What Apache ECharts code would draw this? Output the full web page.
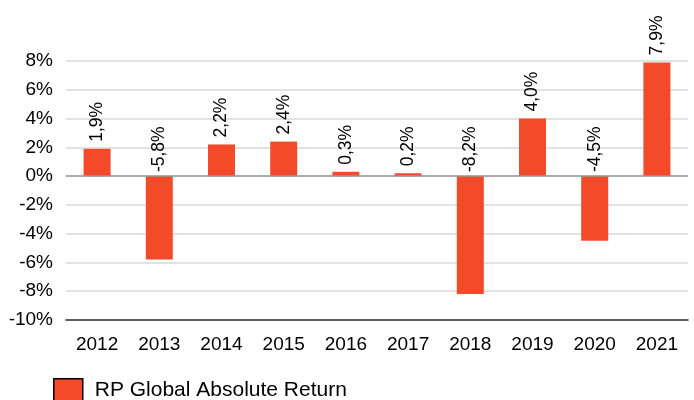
<!DOCTYPE html>
<html>
<head>
<meta charset="utf-8">
<script src="https://cdn.jsdelivr.net/npm/echarts@6/dist/echarts.min.js"></script>
<style>
html,body{margin:0;padding:0;background:#fff;}
#chart{width:694px;height:400px;}
</style>
</head>
<body>
<div id="chart"></div>
<script>
var years = ['2012','2013','2014','2015','2016','2017','2018','2019','2020','2021'];
var returns = [1.9, -5.8, 2.2, 2.4, 0.3, 0.2, -8.2, 4.0, -4.5, 7.9];
var seriesName = 'RP Global Absolute Return';

var myChart = echarts.init(document.getElementById('chart'));

function fmt(v){
    return v.toFixed(1).replace('.', ',') + '%';
}

option = {
    animation: false,
    textStyle: {fontFamily: 'Liberation Sans'},
    grid: {left: 66, right: 6, top: 61, bottom: 80},
    legend: {
        left: 53, top: 378, padding: 0,
        itemWidth: 29, itemHeight: 22,
        itemGap: 10,
        icon: 'rect',
        textStyle: {fontSize: 21, lineHeight: 22, color: '#000', fontFamily: 'Liberation Sans', padding: [0, 0, 0, 7]},
        data: [{name: seriesName, itemStyle: {borderColor: '#000', borderWidth: 1.5}}]
    },
    xAxis: {
        type: 'category',
        data: years,
        axisLine: {onZero: false, lineStyle: {color: '#333', width: 1.5}},
        axisTick: {alignWithLabel: true, length: 5, lineStyle: {color: '#555'}},
        axisLabel: {fontSize: 19, color: '#000', margin: 15}
    },
    yAxis: {
        type: 'value',
        min: -10, max: 8, interval: 2,
        axisLine: {show: false},
        axisTick: {show: false},
        axisLabel: {fontSize: 19, color: '#000', margin: 13, formatter: '{value}%'},
        splitLine: {lineStyle: {color: '#d9d9d9', width: 1.5}}
    },
    series: [{
        name: seriesName,
        type: 'bar',
        barWidth: 27,
        itemStyle: {color: '#f34a2a'},
        data: returns,
        label: {
            show: true,
            position: 'insideBottom',
            rotate: 90,
            align: 'left',
            verticalAlign: 'middle',
            fontSize: 17.5,
            color: '#000',
            formatter: function(p){ return fmt(p.value); }
        },
        labelLayout: function(params){
            var r = params.rect;
            var top = Math.min(r.y, r.y + r.height);
            var v = returns[params.dataIndex];
            var gap = v >= 0 ? 7 : 4;
            return {x: r.x + r.width / 2, y: top - gap};
        },
        markLine: {
            silent: true,
            symbol: ['none','none'],
            label: {show: false},
            lineStyle: {color: '#999', type: 'solid', width: 1.5},
            data: [{yAxis: 0}]
        }
    }]
};
myChart.setOption(option);
</script>
</body>
</html>
